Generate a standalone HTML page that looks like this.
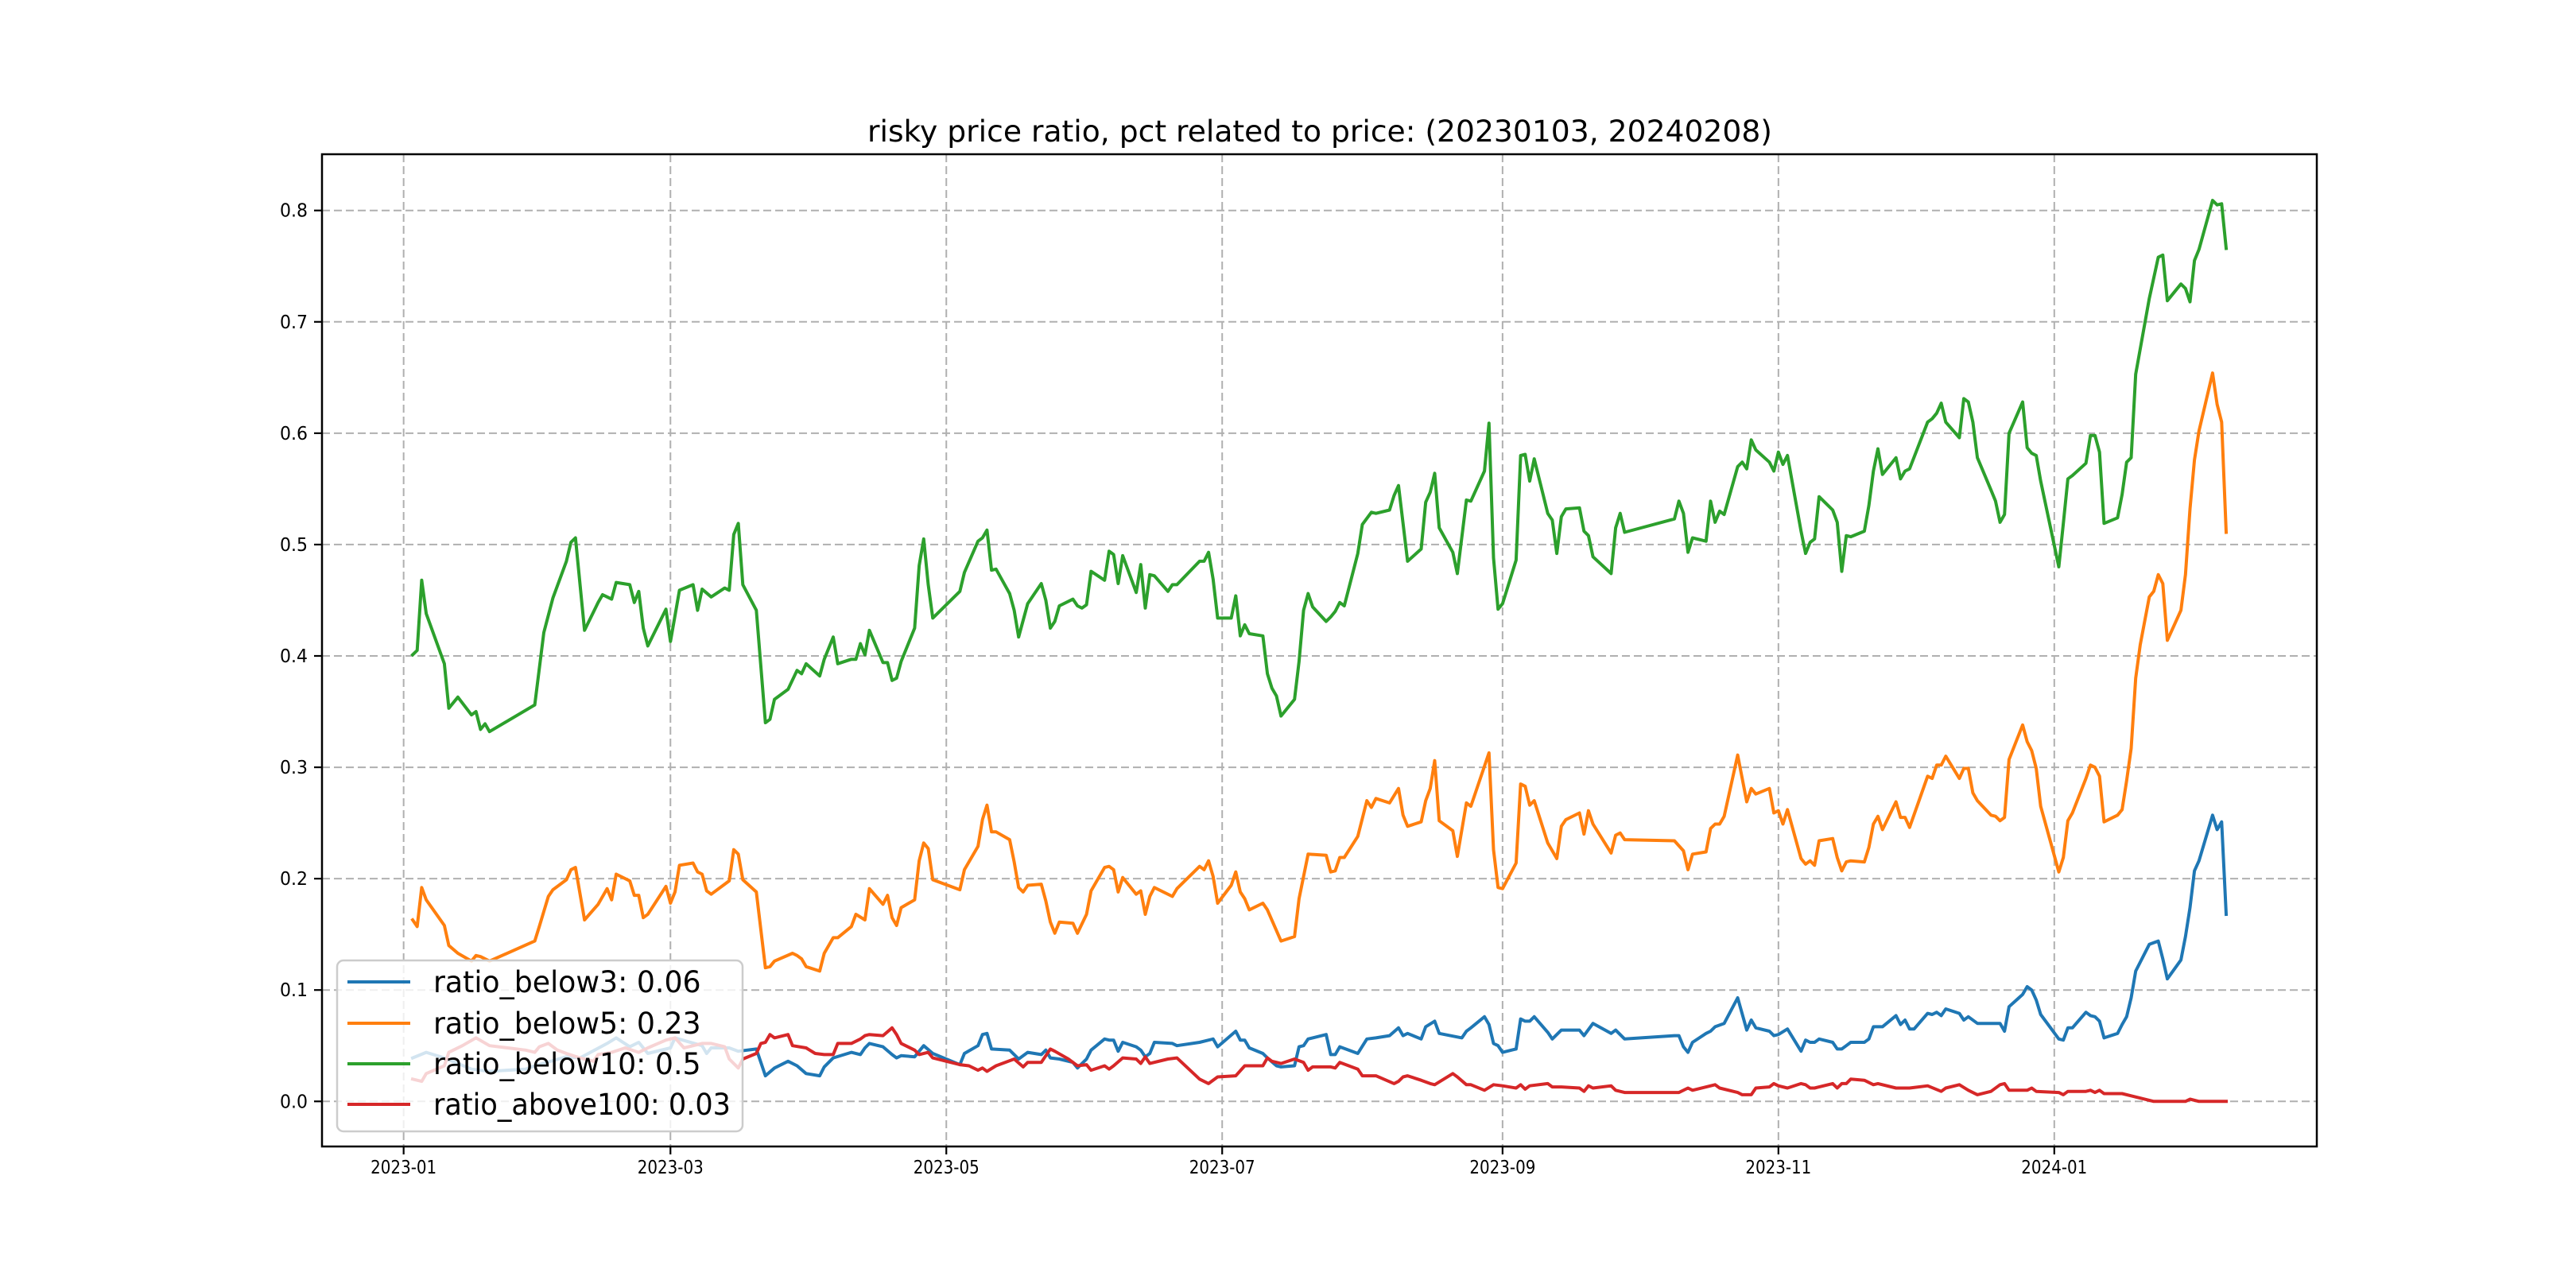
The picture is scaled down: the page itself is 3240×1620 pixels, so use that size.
<!DOCTYPE html>
<html><head><meta charset="utf-8">
<style>html,body{margin:0;padding:0;background:#fff}svg{display:block}</style>
</head><body>
<svg id="chart" width="3240" height="1620" viewBox="0 0 3240 1620" xmlns="http://www.w3.org/2000/svg" font-family="'DejaVu Sans','Liberation Sans',sans-serif">
<rect x="0" y="0" width="3240" height="1620" fill="#ffffff"/>
<g id="grid"></g>
<g id="series"></g>
<g id="axes"></g>
<text x="1660" y="178" text-anchor="middle" font-size="37" textLength="1138" lengthAdjust="spacingAndGlyphs" fill="#000">risky price ratio, pct related to price: (20230103, 20240208)</text>
<g id="legend"></g>
</svg>
<script>
const xTickDays = [0, 59, 120, 181, 243, 304, 365];
const xTickLabels = ["2023-01","2023-03","2023-05","2023-07","2023-09","2023-11","2024-01"];
const yTicks = [0, 0.1, 0.2, 0.3, 0.4, 0.5, 0.6, 0.7, 0.8];
const yTickLabels = ["0.0","0.1","0.2","0.3","0.4","0.5","0.6","0.7","0.8"];
const seriesNames = ["ratio_below3: 0.06","ratio_below5: 0.23","ratio_below10: 0.5","ratio_above100: 0.03"];

const greenDays = [2,3,4,5,9,10,12,15,16,17,18,19,29,31,33,36,37,38,40,43,44,46,47,50,51,52,53,54,58,59,61,64,65,66,68,71,72,73,74,75,78,80,81,82,85,87,88,89,92,93,95,96,99,100,101,
102,103,106,107,108,109,110,113,114,115,116,117,123,124,127,128,129,130,131,134,135,136,137,138,141,142,143,144,145,148,149,150,151,152,155,156,157,158,159,162,163,164,165,166,169,170,171,176,177,178,179,180,183,184,185,186,187,190,191,192,193,194,197,198,199,200,201,204,205,
206,207,208,211,212,214,215,218,219,220,222,225,226,227,228,229,232,233,235,236,239,240,241,242,243,246,247,248,249,250,253,254,255,256,257,260,261,262,263,267,268,269,270,281,282,283,284,285,288,289,290,291,292,295,296,297,298,299,302,303,304,305,306,309,
310,311,312,313,316,317,318,319,320,323,324,325,326,327,330,331,332,333,337,338,339,340,341,344,345,346,347,348,351,352,353,354,355,358,359,360,361,362,366,367,368,369,372,373,374,375,376,379,380,381,382,383,386,388,389,390,393,394,395,396,397,400,401,402,403];
const greenVals = [.401,.405,.468,.438,.393,.353,.363,.347,.350,.334,.339,.332,.356,.421,.452,.485,.502,.506,.423,.448,.455,.451,.466,.464,.448,.458,.425,.409,.442,.413,.459,.464,.441,.460,.453,.461,.459,.509,.519,.464,.441,.340,.343,.361,.370,.387,.384,.393,.382,.397,.417,.393,.397,.397,.411,
.401,.423,.394,.394,.378,.380,.395,.425,.481,.505,.464,.434,.458,.475,.503,.506,.513,.477,.478,.456,.441,.417,.432,.447,.465,.450,.425,.431,.445,.451,.445,.443,.446,.476,.468,.494,.491,.465,.490,.457,.482,.443,.473,.472,.458,.464,.464,.485,.485,.493,.469,.434,.434,.454,.418,.428,.420,.418,.384,.371,.364,.346,.361,.395,.441,.456,.444,.431,.435,
.440,.448,.445,.492,.518,.529,.528,.531,.544,.553,.485,.496,.538,.547,.564,.515,.493,.474,.540,.539,.566,.609,.488,.442,.447,.486,.580,.581,.557,.577,.528,.522,.492,.525,.532,.533,.512,.508,.489,.474,.515,.528,.511,.523,.539,.528,.493,.506,.503,.539,.520,.530,.527,.570,.574,.568,.594,.585,.574,.566,.583,.572,.580,.512,
.492,.502,.505,.543,.531,.520,.476,.508,.507,.512,.535,.566,.586,.563,.578,.559,.566,.568,.610,.613,.618,.627,.610,.596,.631,.628,.610,.578,.549,.539,.520,.527,.600,.628,.587,.582,.580,.557,.480,.519,.559,.562,.573,.598,.598,.583,.519,.524,.545,.574,.578,.653,.721,.758,.760,.719,.734,.730,.718,.755,.765,.809,.805,.806,.766];

const orangeDays = [2,3,4,5,9,10,12,15,16,17,19,29,30,32,33,36,37,38,40,43,45,46,47,50,51,52,53,54,58,59,60,61,64,65,66,67,68,71,72,73,74,75,78,80,81,82,86,87,88,89,92,93,95,96,99,100,
102,103,106,107,108,109,110,113,114,115,116,117,123,124,127,128,129,130,131,134,135,136,137,138,141,142,143,144,145,148,149,151,152,155,156,157,158,159,162,163,164,165,166,170,171,176,177,178,179,180,183,184,185,186,187,190,191,194,197,198,199,200,204,205,
206,207,208,211,213,214,215,218,220,221,222,225,226,227,228,229,232,233,235,236,240,241,242,243,246,247,248,249,250,253,255,256,257,260,261,262,263,267,268,269,270,281,283,284,285,288,289,290,291,292,295,297,298,299,302,303,304,305,306,309,
310,311,312,313,316,317,318,319,320,323,324,325,326,327,330,331,332,333,337,338,339,340,341,344,345,346,347,348,351,352,353,354,355,358,359,360,361,362,366,367,368,369,372,373,374,375,376,379,380,381,382,383,384,386,387,388,389,390,393,394,395,396,397,400,401,402,403];
const orangeVals = [.163,.157,.192,.181,.158,.140,.133,.126,.131,.130,.126,.144,.157,.184,.190,.199,.208,.210,.163,.177,.191,.181,.204,.198,.185,.185,.165,.168,.193,.178,.188,.212,.214,.206,.204,.189,.186,.195,.198,.226,.222,.199,.188,.120,.121,.126,.133,.131,.128,.121,.117,.133,.147,.147,.157,.168,
.163,.191,.177,.185,.165,.158,.174,.181,.216,.232,.227,.199,.190,.208,.229,.253,.266,.242,.242,.235,.215,.192,.188,.194,.195,.180,.161,.151,.161,.160,.151,.168,.189,.210,.211,.208,.188,.201,.186,.189,.168,.184,.192,.184,.191,.211,.208,.216,.202,.178,.194,.206,.188,.182,.172,.178,.172,.144,.148,.182,.202,.222,.221,.206,
.207,.219,.219,.238,.270,.264,.272,.268,.281,.257,.247,.251,.270,.281,.306,.252,.243,.220,.268,.265,.313,.226,.192,.191,.214,.285,.283,.266,.270,.232,.218,.247,.253,.259,.240,.261,.249,.223,.239,.241,.235,.234,.225,.208,.222,.224,.245,.249,.249,.256,.311,.269,.281,.276,.281,.259,.261,.249,.262,.218,
.213,.216,.212,.234,.236,.219,.207,.215,.216,.215,.228,.249,.256,.244,.269,.255,.255,.246,.292,.290,.302,.302,.310,.290,.299,.299,.277,.270,.257,.256,.252,.255,.307,.338,.323,.315,.299,.265,.206,.219,.252,.259,.290,.302,.300,.292,.251,.257,.262,.288,.317,.380,.410,.453,.458,.473,.465,.414,.441,.473,.532,.576,.602,.654,.626,.610,.511];

const blueDays = [2,5,9,15,19,27,29,36,39,45,47,50,52,54,59,60,66,67,68,72,74,78,80,82,85,87,89,92,93,95,99,101,
102,103,106,108,109,110,113,115,117,123,124,127,128,129,130,134,135,136,138,141,142,143,145,148,149,151,152,155,156,157,158,159,162,163,164,165,166,170,171,176,179,180,184,185,186,187,190,191,193,194,197,198,199,200,204,205,
206,207,211,213,215,218,220,221,222,225,226,228,229,234,235,236,239,240,241,242,243,246,247,248,249,250,253,254,256,260,261,263,267,268,270,281,282,283,284,285,288,289,290,292,295,297,298,299,302,303,304,306,309,
310,311,312,313,316,317,318,319,320,323,324,325,327,330,331,332,333,334,337,338,339,340,341,344,345,346,348,353,354,355,358,359,360,361,362,366,367,368,369,372,373,374,375,376,379,380,381,382,383,386,388,389,390,393,394,395,396,397,400,401,402,403];
const blueVals = [.039,.044,.039,.029,.027,.029,.032,.040,.039,.052,.057,.049,.053,.043,.048,.057,.050,.043,.048,.048,.045,.047,.023,.030,.036,.032,.025,.023,.031,.039,.044,.042,
.048,.052,.049,.042,.039,.041,.040,.050,.043,.033,.043,.050,.060,.061,.047,.046,.042,.038,.044,.042,.046,.039,.038,.035,.030,.038,.046,.056,.055,.055,.045,.053,.049,.046,.040,.043,.053,.052,.050,.053,.056,.049,.063,.055,.055,.048,.043,.039,.032,.031,.032,.049,.050,.056,.060,.042,
.042,.049,.043,.056,.057,.059,.066,.059,.061,.056,.067,.072,.061,.057,.063,.066,.076,.069,.052,.050,.044,.047,.074,.072,.072,.076,.062,.056,.064,.064,.059,.070,.061,.064,.056,.059,.059,.049,.044,.053,.061,.063,.067,.070,.093,.064,.073,.066,.063,.059,.060,.065,.045,
.055,.053,.053,.056,.053,.047,.047,.050,.053,.053,.056,.067,.067,.077,.069,.073,.065,.065,.079,.078,.080,.077,.083,.079,.073,.076,.070,.070,.063,.085,.096,.103,.100,.091,.078,.056,.055,.066,.066,.080,.077,.076,.072,.057,.061,.069,.076,.093,.117,.141,.144,.128,.110,.127,.148,.174,.207,.216,.257,.244,.251,.168];

const redDays = [2,4,5,9,10,13,16,19,27,29,30,32,34,36,39,42,43,46,49,52,54,58,60,62,66,68,71,72,74,75,78,79,80,81,82,85,86,89,91,93,95,96,99,101,
102,103,106,108,109,110,113,114,116,117,123,125,127,128,129,131,135,137,138,141,143,144,147,149,151,152,155,156,157,159,162,163,164,165,169,171,176,178,180,184,186,190,191,192,194,197,199,200,201,205,
206,207,211,212,214,215,219,220,221,222,225,227,228,232,233,235,236,239,241,243,246,247,248,249,253,254,256,260,261,262,263,267,268,270,282,284,285,290,291,295,296,298,299,302,303,304,306,309,
310,311,312,316,317,318,319,320,323,325,326,330,333,337,340,341,344,346,348,351,353,354,355,359,360,361,366,367,368,372,373,374,375,376,380,382,387,394,395,397,403];
const redVals = [.020,.018,.025,.032,.044,.050,.057,.050,.046,.044,.049,.052,.046,.043,.039,.036,.042,.044,.048,.044,.048,.055,.057,.048,.052,.052,.049,.038,.030,.038,.043,.052,.053,.060,.057,.060,.050,.048,.043,.042,.042,.052,.052,.056,
.059,.060,.059,.066,.060,.052,.046,.042,.044,.039,.033,.032,.028,.030,.027,.032,.038,.031,.035,.035,.047,.045,.038,.032,.033,.028,.032,.029,.032,.039,.038,.034,.040,.034,.038,.039,.020,.016,.022,.023,.032,.032,.039,.036,.034,.038,.035,.028,.031,.031,
.030,.035,.029,.023,.023,.023,.016,.018,.022,.023,.019,.016,.015,.025,.022,.015,.015,.010,.015,.014,.012,.015,.011,.014,.016,.013,.013,.012,.009,.014,.012,.014,.010,.008,.008,.012,.010,.015,.012,.008,.006,.006,.012,.013,.016,.014,.012,.016,
.015,.012,.012,.016,.012,.016,.016,.020,.019,.015,.016,.012,.012,.014,.009,.012,.015,.010,.006,.009,.015,.016,.010,.010,.012,.009,.008,.006,.009,.009,.010,.008,.010,.007,.007,.005,.000,.000,.002,.000,.000];

const NS = "http://www.w3.org/2000/svg";
const plot = {left: 405, right: 2914, top: 194, bottom: 1442};
const xDomain = [-18.05, 423.05];
const yDomain = [-0.0405, 0.8505];
function xScale(d){ return plot.left + (d - xDomain[0]) / (xDomain[1] - xDomain[0]) * (plot.right - plot.left); }
function yScale(v){ return plot.bottom - (v - yDomain[0]) / (yDomain[1] - yDomain[0]) * (plot.bottom - plot.top); }
function mk(tag, attrs, parent){
  const el = document.createElementNS(NS, tag);
  for (const k in attrs) el.setAttribute(k, attrs[k]);
  parent.appendChild(el);
  return el;
}
const grid = document.getElementById('grid');
const axes = document.getElementById('axes');
const seriesG = document.getElementById('series');
const legend = document.getElementById('legend');

xTickDays.forEach((d, i) => {
  const x = xScale(d);
  const gl = mk('line', {x1:x, x2:x, y1:plot.top, y2:plot.bottom, stroke:'#b0b0b0', 'stroke-width':2, 'stroke-dasharray':'10,5'}, grid);
  
  
  const tk = mk('line', {x1:x, x2:x, y1:plot.bottom, y2:plot.bottom+10, stroke:'#000', 'stroke-width':2.2}, axes);
  
  
  const t = mk('text', {x:x, y:1476, 'text-anchor':'middle', 'font-size':23, textLength:83, lengthAdjust:'spacingAndGlyphs', fill:'#000'}, axes);
  t.textContent = xTickLabels[i];
  
  
});
yTicks.forEach((v, i) => {
  const y = yScale(v);
  const gl = mk('line', {x1:plot.left, x2:plot.right, y1:y, y2:y, stroke:'#b0b0b0', 'stroke-width':2, 'stroke-dasharray':'10,5'}, grid);
  
  
  const tk = mk('line', {x1:plot.left-10, x2:plot.left, y1:y, y2:y, stroke:'#000', 'stroke-width':2.2}, axes);
  
  
  const t = mk('text', {x:387, y:y+8, 'text-anchor':'end', 'font-size':23, textLength:35, lengthAdjust:'spacingAndGlyphs', fill:'#000'}, axes);
  t.textContent = yTickLabels[i];
  
  
});
const frame = mk('rect', {x:plot.left, y:plot.top, width:plot.right-plot.left, height:plot.bottom-plot.top, fill:'none', stroke:'#000', 'stroke-width':2.5}, axes);



const colors = ['#1f77b4', '#ff7f0e', '#2ca02c', '#d62728'];
const allDays = [blueDays, orangeDays, greenDays, redDays];
const allVals = [blueVals, orangeVals, greenVals, redVals];
const lineNames = ['line-ratio-below3', 'line-ratio-below5', 'line-ratio-below10', 'line-ratio-above100'];
allDays.forEach((days, s) => {
  const vals = allVals[s];
  const pts = days.map((d, i) => xScale(d).toFixed(1) + ',' + yScale(vals[i]).toFixed(1)).join(' ');
  const pl = mk('polyline', {points:pts, fill:'none', stroke:colors[s], 'stroke-width':4, 'stroke-linejoin':'round', 'stroke-linecap':'square'}, seriesG);
  
  
});

const box = mk('rect', {x:424, y:1208, width:510, height:215, rx:8, ry:8, fill:'#ffffff', 'fill-opacity':0.8, stroke:'#cccccc', 'stroke-width':2.5}, legend);


const legendY = [1235, 1287, 1338, 1389];
const legendW = [430, 430, 400, 445];
seriesNames.forEach((name, i) => {
  const y = legendY[i];
  const ln = mk('line', {x1:437, x2:516, y1:y, y2:y, stroke:colors[i], 'stroke-width':4}, legend);
  
  
  const t = mk('text', {x:545, y:y+13, 'font-size':37, textLength:name.length*18.7, lengthAdjust:'spacingAndGlyphs', fill:'#000'}, legend);
  t.textContent = name;
  
  
});
</script>
</body></html>
